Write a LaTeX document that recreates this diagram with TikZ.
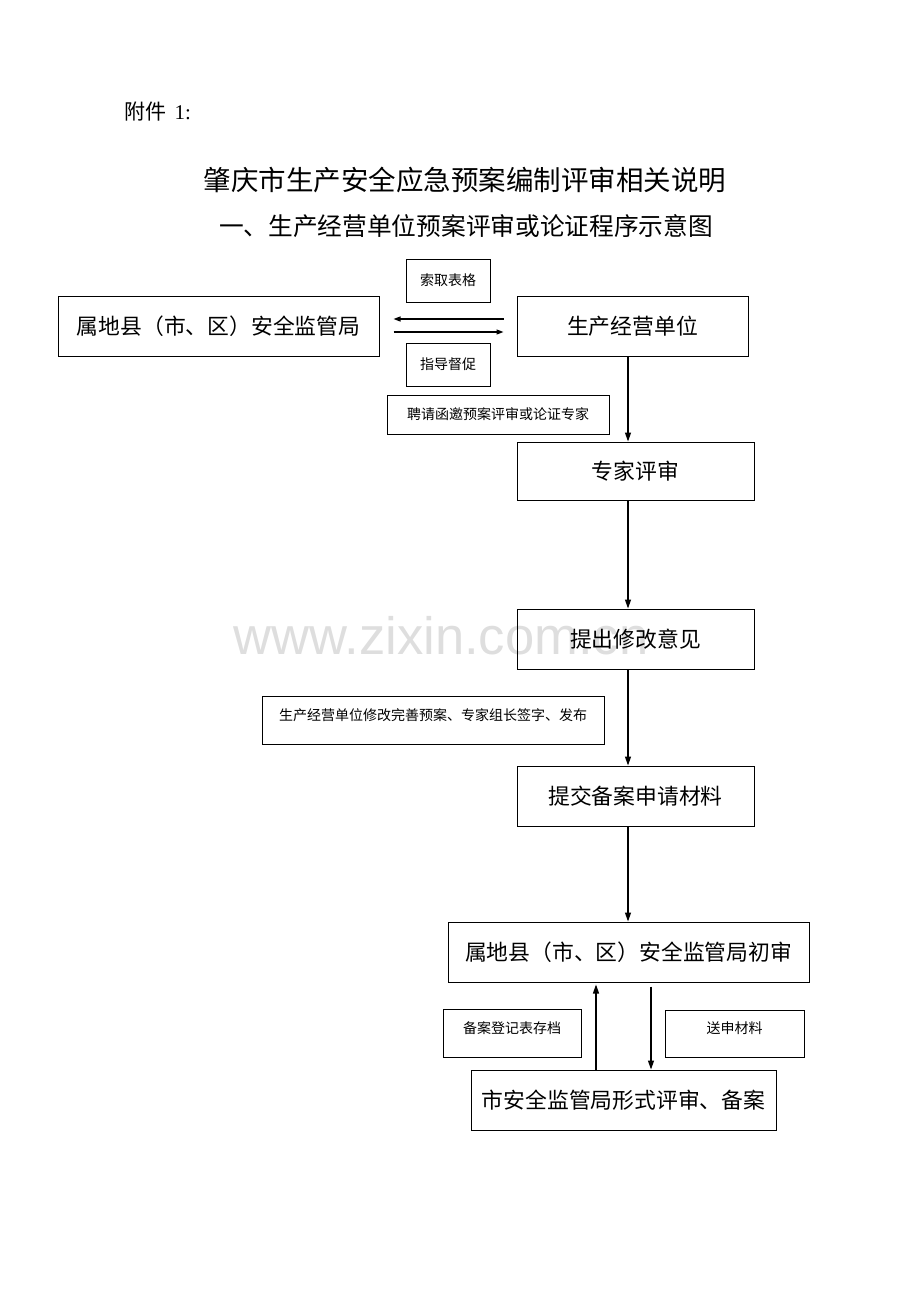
\documentclass[tikz,border=0pt]{standalone}
\usepackage{fontspec}
\setmainfont{Noto Sans CJK SC}
\newfontfamily\markfont{Liberation Sans}
\newfontfamily\numfont{Liberation Serif}
\usetikzlibrary{arrows.meta}

\tikzset{
	bigbox/.style={draw, line width=1pt, inner sep=0pt, font=\fontsize{21.8}{24}\selectfont},
	smallbox/.style={draw, line width=1pt, inner sep=0pt, font=\fontsize{14}{16}\selectfont},
	uptext/.style={text height=12pt, text depth=12pt},
	flow/.style={->, line width=1.2pt},
}

\begin{document}
\begin{tikzpicture}[x=1pt, y=-1pt, >={Triangle[length=9pt,width=6pt]}]
	\useasboundingbox (0,0) rectangle (920,1302);
	% watermark
	\node (mark) at (441,636) {\markfont\fontsize{52.6}{56}\selectfont\color{black!13}www.zixin.com.cn};
	% headings
	\node[anchor=west, font=\fontsize{21}{24}\selectfont] (fj) at (121,112) {附件\hspace{8pt}{\numfont 1:}};
	\node[font=\fontsize{27.5}{30}\selectfont] (title) at (465,180) {肇庆市生产安全应急预案编制评审相关说明};
	\node[font=\fontsize{24.7}{28}\selectfont] (subtitle) at (466,226) {一、生产经营单位预案评审或论证程序示意图};
	% top row
	\node[smallbox, minimum width=84, minimum height=43] (qb) at (448,280.5) {索取表格};
	\node[bigbox, minimum width=321, minimum height=60] (sd) at (218.5,326) {属地县（市、区）安全监管局};
	\node[bigbox, minimum width=231, minimum height=60] (sc) at (632.5,326) {生产经营单位};
	\node[smallbox, minimum width=84, minimum height=43] (zd) at (448,364.5) {指导督促};
	\node[smallbox, minimum width=222, minimum height=39] (pq) at (498,414.5) {聘请函邀预案评审或论证专家};
	\draw[flow, >={Triangle[length=7pt,width=5pt]}, shorten >=14pt, shorten <=13pt] ([yshift=7pt]sc.west) -- ([yshift=7pt]sd.east);
	\draw[flow, >={Triangle[length=7pt,width=5pt]}, shorten >=13pt, shorten <=14pt] ([yshift=-6pt]sd.east) -- ([yshift=-6pt]sc.west);
	% main column
	\node[bigbox, minimum width=237, minimum height=58] (zj) at (635.5,471) {专家评审};
	\node[bigbox, minimum width=237, minimum height=60] (tc) at (635.5,639) {提出修改意见};
	\node[smallbox, uptext, minimum width=342, minimum height=48] (xg) at (433,720) {生产经营单位修改完善预案、专家组长签字、发布};
	\node[bigbox, minimum width=237, minimum height=60] (tj) at (635.5,796) {提交备案申请材料};
	\node[bigbox, minimum width=361, minimum height=60] (cs) at (628.5,952) {属地县（市、区）安全监管局初审};
	\coordinate (ax) at (628,0);
	\draw[flow] (sc.south -| ax) -- (zj.north -| ax);
	\draw[flow] (zj.south -| ax) -- (tc.north -| ax);
	\draw[flow] (tc.south -| ax) -- (tj.north -| ax);
	\draw[flow] (tj.south -| ax) -- (cs.north -| ax);
	% bottom
	\node[smallbox, uptext, minimum width=138, minimum height=48] (ba) at (512,1033) {备案登记表存档};
	\node[smallbox, uptext, minimum width=139, minimum height=47] (ss) at (734.5,1033.5) {送申材料};
	\node[bigbox, minimum width=305, minimum height=60] (xs) at (623.5,1100) {市安全监管局形式评审、备案};
	\coordinate (bup) at (596,0);
	\coordinate (bdn) at (651,0);
	\draw[flow, shorten >=2pt] (xs.north -| bup) -- (cs.south -| bup);
	\draw[flow, shorten <=4pt] (cs.south -| bdn) -- (xs.north -| bdn);
\end{tikzpicture}
\end{document}
